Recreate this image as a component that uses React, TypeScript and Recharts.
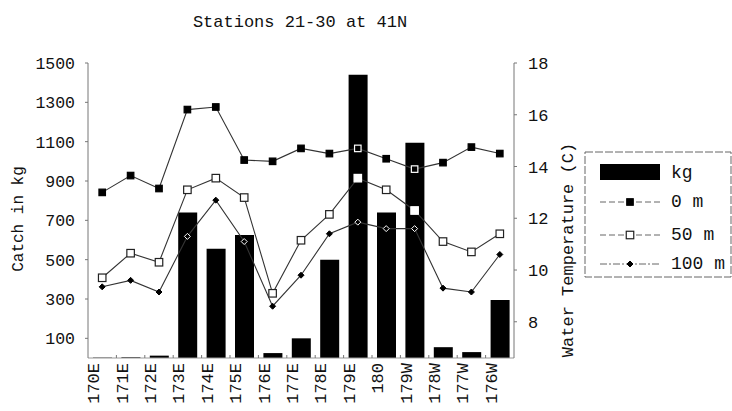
import React from 'react';
import { ComposedChart, Bar, Line, XAxis, YAxis } from 'recharts';

const categories = ['170E', '171E', '172E', '173E', '174E', '175E', '176E', '177E', '178E', '179E', '180', '179W', '178W', '177W', '176W'];
const catchKg = [2, 4, 12, 740, 555, 625, 25, 100, 500, 1440, 740, 1095, 55, 30, 295];
const temp0m = [13.0, 13.65, 13.15, 16.2, 16.3, 14.25, 14.2, 14.7, 14.5, 14.7, 14.3, 13.9, 14.15, 14.75, 14.5];
const temp50m = [9.7, 10.65, 10.3, 13.1, 13.55, 12.8, 9.1, 11.15, 12.15, 13.55, 13.1, 12.3, 11.1, 10.7, 11.4];
const temp100m = [9.35, 9.6, 9.15, 11.3, 12.7, 11.1, 8.6, 9.8, 11.4, 11.85, 11.6, 11.6, 9.3, 9.15, 10.6];
const kgTicks = [100, 300, 500, 700, 900, 1100, 1300, 1500];
const tempTicks = [8, 10, 12, 14, 16, 18];
const legendLabels = ['kg', '0 m', '50 m', '100 m'];

const KG_DOMAIN: [number, number] = [0, 1500];
const T_DOMAIN: [number, number] = [6.6, 18];

const data = categories.map((station, i) => ({
  station,
  kg: catchKg[i],
  t0: temp0m[i],
  t50: temp50m[i],
  t100: temp100m[i],
}));

const FONT = '"Liberation Mono", "DejaVu Sans Mono", monospace';
const INK = '#111';
const LINE = '#333';

function insideBar(kg: number, t: number) {
  const fk = (kg - KG_DOMAIN[0]) / (KG_DOMAIN[1] - KG_DOMAIN[0]);
  const ft = (t - T_DOMAIN[0]) / (T_DOMAIN[1] - T_DOMAIN[0]);
  return ft < fk;
}

function Marker({ kind, cx, cy, inverted }: { kind: string; cx: number; cy: number; inverted: boolean }) {
  if (kind === 't0') {
    const s = 6.5;
    return (
      <rect x={cx - s / 2} y={cy - s / 2} width={s} height={s}
        fill="#000" stroke={inverted ? '#fff' : '#000'} strokeWidth={1.2} />
    );
  }
  if (kind === 't50') {
    const s = 7.5;
    return (
      <rect x={cx - s / 2} y={cy - s / 2} width={s} height={s}
        fill="#fff" stroke={inverted ? '#fff' : '#222'} strokeWidth={1.2} />
    );
  }
  const r = 3;
  return (
    <path d={`M${cx},${cy - r} L${cx + r},${cy} L${cx},${cy + r} L${cx - r},${cy} Z`}
      fill="#000" stroke={inverted ? '#fff' : '#000'} strokeWidth={1} />
  );
}

const makeDot = (kind: string) => (props: any) => {
  const { cx, cy, payload, index } = props;
  if (cx == null || cy == null) return <g key={`${kind}-${index}`} />;
  const inv = insideBar(payload.kg, payload[kind]);
  return (
    <g key={`${kind}-${index}`}>
      <Marker kind={kind} cx={cx} cy={cy} inverted={inv} />
    </g>
  );
};

const HALF_BAND = (514 - 88) / categories.length / 2;

const XTick = (props: any) => {
  const { x, y, payload, index } = props;
  return (
    <g>
      {index > 0 && (
        <line x1={x - HALF_BAND} x2={x - HALF_BAND} y1={y - 8} y2={y - 5} stroke="#777" strokeWidth={1} />
      )}
      <text
        transform={`translate(${x - 7.5},${y}) rotate(-90)`}
        textAnchor="end"
        dominantBaseline="central"
        fontFamily={FONT}
        fontSize={17}
        fill={INK}
      >
        {payload.value}
      </text>
    </g>
  );
};

function Legend() {
  const x0 = 600;
  const rows = [173, 202, 235, 264];
  return (
    <g>
      <rect x={585} y={152} width={146} height={125} fill="#fff" stroke="#666" strokeWidth={1} strokeDasharray="8 2" />
      <rect x={x0} y={164} width={60} height={16} fill="#000" />
      {[1, 2, 3].map((k) => (
        <line key={k} x1={x0} x2={x0 + 60} y1={rows[k]} y2={rows[k]} stroke="#666" strokeWidth={1} strokeDasharray={k === 3 ? '7 2 2 2' : '6 3'} />
      ))}
      <Marker kind="t0" cx={x0 + 30} cy={rows[1]} inverted={false} />
      <Marker kind="t50" cx={x0 + 30} cy={rows[2]} inverted={false} />
      <Marker kind="t100" cx={x0 + 30} cy={rows[3]} inverted={false} />
      {legendLabels.map((lab, i) => (
        <text key={lab} x={671} y={rows[i]} dominantBaseline="central" fontFamily={FONT} fontSize={18} fill={INK}>
          {lab}
        </text>
      ))}
    </g>
  );
}

export default function App() {
  return (
    <div style={{ position: 'absolute', left: 0, top: 0, width: 732, height: 411, background: '#fff' }}>
      <ComposedChart
        width={732}
        height={411}
        data={data}
        margin={{ top: 63, right: 158, bottom: 3, left: 28 }}
      >
        <XAxis
          dataKey="station"
          height={50}
          interval={0}
          tickLine={false}
          tickSize={0}
          tickMargin={5}
          axisLine={{ stroke: '#999' }}
          tick={<XTick />}
        />
        <YAxis
          yAxisId="kg"
          domain={KG_DOMAIN}
          ticks={kgTicks}
          width={60}
          tickSize={3}
          tickMargin={10}
          axisLine={{ stroke: '#777' }}
          tickLine={{ stroke: '#777' }}
          tick={{ fontFamily: FONT, fontSize: 16.5, fill: INK }}
        />
        <YAxis
          yAxisId="t"
          orientation="right"
          domain={T_DOMAIN}
          ticks={tempTicks}
          width={60}
          tickSize={3}
          tickMargin={11}
          axisLine={{ stroke: '#777' }}
          tickLine={{ stroke: '#777' }}
          tick={{ fontFamily: FONT, fontSize: 17, fill: INK }}
        />
        <Bar yAxisId="kg" dataKey="kg" fill="#000" barSize={19} isAnimationActive={false} />
        <Line yAxisId="t" dataKey="t0" stroke={LINE} strokeWidth={1.1} dot={makeDot('t0')} activeDot={false} isAnimationActive={false} />
        <Line yAxisId="t" dataKey="t50" stroke={LINE} strokeWidth={1.1} dot={makeDot('t50')} activeDot={false} isAnimationActive={false} />
        <Line yAxisId="t" dataKey="t100" stroke={LINE} strokeWidth={1.1} dot={makeDot('t100')} activeDot={false} isAnimationActive={false} />
      </ComposedChart>
      <svg width={732} height={411} style={{ position: 'absolute', left: 0, top: 0, pointerEvents: 'none' }}>
        <text x={300} y={22} textAnchor="middle" dominantBaseline="central" fontFamily={FONT} fontSize={17} fill={INK}>
          Stations 21-30 at 41N
        </text>
        <text transform="translate(19,219) rotate(-90)" textAnchor="middle" dominantBaseline="central" fontFamily={FONT} fontSize={16} fill={INK}>
          Catch in kg
        </text>
        <text transform="translate(568,250) rotate(-90)" textAnchor="middle" dominantBaseline="central" fontFamily={FONT} fontSize={17} fill={INK}>
          Water Temperature (C)
        </text>
        <Legend />
      </svg>
    </div>
  );
}
